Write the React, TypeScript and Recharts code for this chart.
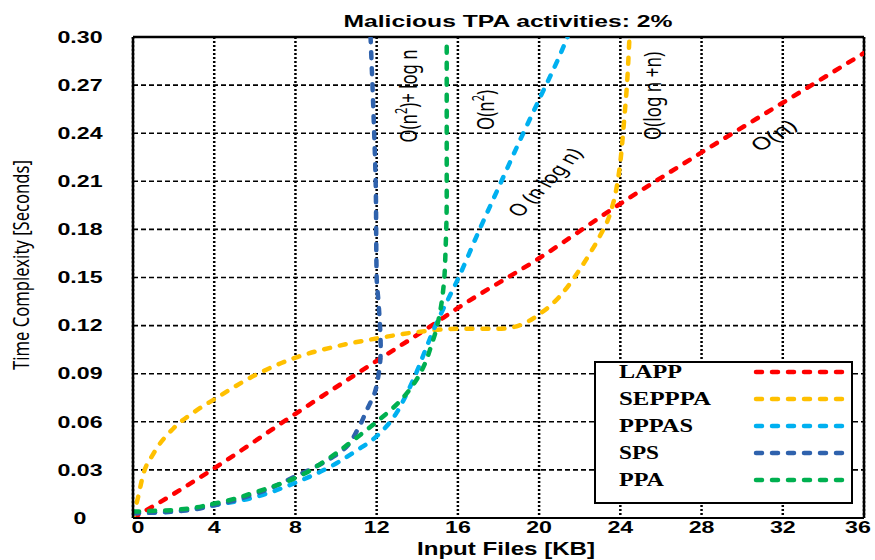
import { LineChart, Line, XAxis, YAxis, CartesianGrid, ReferenceLine, Legend } from "recharts";

// values (x = input files KB, y = seconds)
const X_TICKS = [0, 4, 8, 12, 16, 20, 24, 28, 32, 36];
const Y_TICKS = [0, 0.03, 0.06, 0.09, 0.12, 0.15, 0.18, 0.21, 0.24, 0.27, 0.3];

const LAPP_X = [0, 2, 4, 8, 12, 14.7, 16, 20, 24, 28, 32, 36];
const LAPP_Y = [0, 0.015, 0.031, 0.065, 0.098, 0.12, 0.131, 0.162, 0.196, 0.228, 0.259, 0.29];

const SEPPPA_X = [0, 0.25, 0.5, 1, 2, 3, 4, 6, 8, 10, 12, 14, 16, 18, 19, 20, 21, 22, 22.5, 23, 23.5, 23.8, 24, 24.2, 24.35, 24.45];
const SEPPPA_Y = [0, 0.013, 0.027, 0.04, 0.056, 0.066, 0.074, 0.089, 0.1, 0.107, 0.112, 0.116, 0.118, 0.118, 0.12, 0.127, 0.138, 0.155, 0.165, 0.176, 0.19, 0.205, 0.222, 0.25, 0.275, 0.3];

const PPPAS_X = [0, 2, 4, 6, 8, 10, 11, 12, 13, 13.5, 14, 14.5, 15, 15.5, 16, 17, 18, 19, 20, 21, 21.4];
const PPPAS_Y = [0.003, 0.004, 0.008, 0.013, 0.022, 0.034, 0.042, 0.051, 0.066, 0.078, 0.092, 0.108, 0.123, 0.136, 0.149, 0.178, 0.206, 0.234, 0.261, 0.288, 0.3];

const SPS_X = [0, 2, 4, 6, 8, 9, 10.3, 11.1, 11.5, 11.9, 12.1, 12.2, 12.1, 12.0, 11.95, 11.85, 11.7];
const SPS_Y = [0.003, 0.004, 0.008, 0.015, 0.026, 0.032, 0.042, 0.056, 0.067, 0.078, 0.09, 0.105, 0.133, 0.15, 0.21, 0.25, 0.3];

const PPA_X = [0, 2, 4, 6, 8, 9.5, 10.8, 12, 13, 13.9, 14.4, 14.7, 14.9, 15.1, 15.3, 15.4, 15.45, 15.45, 15.45];
const PPA_Y = [0.004, 0.005, 0.009, 0.016, 0.025, 0.036, 0.048, 0.06, 0.071, 0.085, 0.097, 0.108, 0.116, 0.127, 0.145, 0.17, 0.2, 0.25, 0.3];

const pts = (xs: number[], ys: number[]) => xs.map((x, i) => ({ x, y: ys[i] }));

const SERIES = [
  { name: "LAPP", color: "#ff0000", data: pts(LAPP_X, LAPP_Y), curve: "monotoneX", w: 63 },
  { name: "SEPPPA", color: "#ffc000", data: pts(SEPPPA_X, SEPPPA_Y), curve: "monotoneX", w: 92 },
  { name: "PPPAS", color: "#00b0f0", data: pts(PPPAS_X, PPPAS_Y), curve: "monotoneX", w: 74 },
  { name: "SPS", color: "#2f62ad", data: pts(SPS_X, SPS_Y), curve: "monotoneY", w: 40 },
  { name: "PPA", color: "#00b050", data: pts(PPA_X, PPA_Y), curve: "monotoneY", w: 45 },
];

const ARIAL = "'Liberation Sans', Arial, sans-serif";
const CALIBRI = "'Noto Sans', sans-serif";

const fmtY = (v: number) => (v === 0 ? "0" : v.toFixed(2));

// the source picture is stretched sideways, so glyphs get scaled in x
const YTick = ({ x, y, payload }: any) => (
  <g transform={`translate(${x},${y})`}>
    <text transform="scale(1.45,1)" textAnchor="middle" dy="0.36em" fontSize={16} fontWeight="bold" fontFamily={ARIAL} fill="#000">
      {fmtY(payload.value)}
    </text>
  </g>
);

const XTick = ({ x, y, payload }: any) => {
  const nudge = payload.value === 0 ? 5 : payload.value === 36 ? -6 : 0;
  return (
    <g transform={`translate(${x + nudge},${y})`}>
      <text transform="scale(1.45,1)" textAnchor="middle" dy="0.71em" fontSize={16} fontWeight="bold" fontFamily={ARIAL} fill="#000">
        {payload.value}
      </text>
    </g>
  );
};

const LegendBox = ({ payload }: any) => {
  const items = payload || [];
  // keep the plotting order, not the legend's sorted order
  const rows = SERIES.map((s) => {
    const p = items.find((it: any) => it.value === s.name);
    return { name: s.name, color: p ? p.color : s.color, w: s.w };
  });
  return (
    <svg width={259} height={143} style={{ display: "block" }}>
      <rect x={1} y={1} width={257} height={141} fill="#fff" stroke="#000" strokeWidth={2} />
      {rows.map((r, i) => {
        const cy = 11 + i * 27;
        return (
          <g key={r.name}>
            <text x={25} y={cy + 6} fontSize={18} fontWeight="bold" fontFamily="'Liberation Serif', 'Times New Roman', serif"
              textLength={r.w} lengthAdjust="spacingAndGlyphs" fill="#000">
              {r.name}
            </text>
            <line x1={162} x2={254} y1={cy} y2={cy} stroke={r.color} strokeWidth={4.5} strokeDasharray="6 10" strokeLinecap="round" />
          </g>
        );
      })}
    </svg>
  );
};

const Rot = ({ x, y, angle, len, children, size = 17 }: any) => (
  <g transform={`translate(${x},${y}) scale(1.4,1) rotate(${angle})`}>
    <text textAnchor="middle" fontSize={size} fontFamily={CALIBRI} fill="#000" textLength={len} lengthAdjust="spacingAndGlyphs">
      {children}
    </text>
  </g>
);

const Sup = ({ children }: any) => (
  <tspan baselineShift="super" fontSize={11}>{children}</tspan>
);

export default function App() {
  return (
    <div style={{ position: "absolute", left: 0, top: 0, width: 875, height: 560, background: "#fff" }}>
      <LineChart width={875} height={560} margin={{ top: 37, right: 11, bottom: 12, left: 0 }}>
        <CartesianGrid vertical={false} stroke="#000" strokeWidth={1.6} strokeDasharray="5 3" />
        <CartesianGrid horizontal={false} stroke="#000" strokeWidth={2.5} strokeDasharray="2 2" />
        <XAxis
          type="number"
          dataKey="x"
          domain={[0, 36]}
          ticks={X_TICKS}
          allowDataOverflow
          height={30}
          tickSize={0}
          tickMargin={4}
          axisLine={{ stroke: "#000", strokeWidth: 2 }}
          tick={<XTick />}
        />
        <YAxis
          type="number"
          dataKey="y"
          domain={[0, 0.3]}
          ticks={Y_TICKS}
          allowDataOverflow
          width={133}
          tickSize={0}
          tickMargin={53}
          axisLine={{ stroke: "#000", strokeWidth: 2.5 }}
          tick={<YTick />}
        />
        <ReferenceLine y={0.3} stroke="#000" strokeWidth={2.5} />
        <ReferenceLine x={36} stroke="#000" strokeWidth={2.5} />
        {SERIES.map((s) => (
          <Line
            key={s.name}
            name={s.name}
            data={s.data}
            dataKey="y"
            type={s.curve as any}
            stroke={s.color}
            strokeWidth={4.5}
            strokeDasharray="6 10"
            strokeLinecap="round"
            dot={false}
            activeDot={false}
            isAnimationActive={false}
          />
        ))}
        <Legend
          layout="horizontal"
          verticalAlign="middle"
          align="center"
          content={<LegendBox />}
          wrapperStyle={{ left: 594, top: 361, width: 259, height: 143 }}
        />
      </LineChart>
      <svg width={875} height={560} style={{ position: "absolute", left: 0, top: 0, pointerEvents: "none" }}>
        <text x={508} y={27} textAnchor="middle" fontSize={17} fontWeight="bold" fontFamily={ARIAL} textLength={329} lengthAdjust="spacingAndGlyphs">
          Malicious TPA activities: 2%
        </text>
        <text x={506} y={555} textAnchor="middle" fontSize={18} fontWeight="bold" fontFamily={ARIAL} textLength={178} lengthAdjust="spacingAndGlyphs">
          Input Files [KB]
        </text>
        <g transform="translate(29,265) scale(1.4,1) rotate(-90)">
          <text textAnchor="middle" fontSize={16} fontFamily={CALIBRI} textLength={210} lengthAdjust="spacingAndGlyphs">
            Time Complexity [Seconds]
          </text>
        </g>
        <Rot x={417} y={96} angle={-90} len={93}>O(n<Sup>2</Sup>)+ log n</Rot>
        <Rot x={494} y={110} angle={-90} len={40}>O(n<Sup>2</Sup>)</Rot>
        <Rot x={661} y={96} angle={-90} len={88}>O(log n +n)</Rot>
        <Rot x={552} y={186} angle={-55} len={79}>O (n log n)</Rot>
        <Rot x={779} y={140} angle={-42} len={37}>O(n)</Rot>
      </svg>
    </div>
  );
}
